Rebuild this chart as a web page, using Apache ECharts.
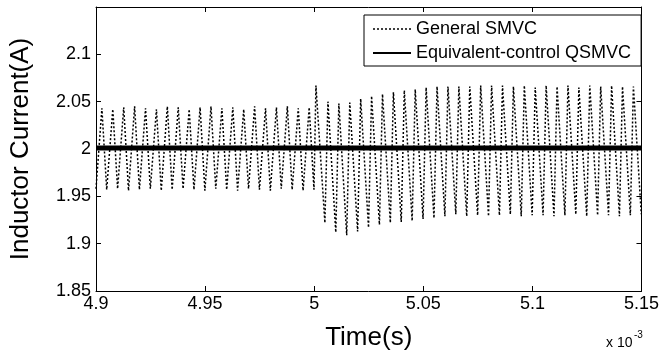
<!DOCTYPE html>
<html>
<head>
<meta charset="utf-8">
<script src="https://cdn.jsdelivr.net/npm/echarts@6/dist/echarts.min.js"></script>
<style>
  html, body { margin: 0; padding: 0; background: #fff; }
  #chart { width: 662px; height: 356px; }
</style>
</head>
<body>
<div id="chart"></div>
<script>
// time in units of 1e-3 s, current in A
// General SMVC: peaks and troughs of the ripple
const peakTime = [
  4.9027, 4.9077, 4.9127, 4.9177, 4.9227, 4.9277, 4.9327, 4.9377, 4.9427, 4.9477,
  4.9527, 4.9577, 4.9627, 4.9677, 4.9727, 4.9777, 4.9827, 4.9877, 4.9927, 4.9977,
  5.0008,
  5.0063, 5.0113, 5.0163, 5.0213, 5.0263, 5.0313, 5.0363, 5.0413, 5.0463, 5.0513,
  5.0563, 5.0613, 5.0663, 5.0713, 5.0763, 5.0813, 5.0863, 5.0913, 5.0963, 5.1013,
  5.1063, 5.1113, 5.1163, 5.1213, 5.1263, 5.1313, 5.1363, 5.1413, 5.1463
];
const peakValue = [
  2.043, 2.042, 2.044, 2.045, 2.043, 2.042, 2.045, 2.044, 2.042, 2.044,
  2.045, 2.043, 2.044, 2.042, 2.045, 2.043, 2.044, 2.045, 2.043, 2.044,
  2.067,
  2.050, 2.048, 2.049, 2.053, 2.056, 2.058, 2.060, 2.062, 2.063, 2.065,
  2.066, 2.066, 2.066, 2.066, 2.067, 2.067, 2.067, 2.066, 2.067, 2.065,
  2.067, 2.066, 2.067, 2.065, 2.067, 2.066, 2.067, 2.066, 2.066
];
const troughTime = [
  4.9,
  4.9049, 4.9099, 4.9149, 4.9199, 4.9249, 4.9299, 4.9349, 4.9399, 4.9449, 4.9499,
  4.9549, 4.9599, 4.9649, 4.9699, 4.9749, 4.9799, 4.9849, 4.9899, 4.9949, 4.9999,
  5.0049, 5.0099, 5.0149, 5.0199, 5.0249, 5.0299, 5.0349, 5.0399, 5.0449, 5.0499,
  5.0549, 5.0599, 5.0649, 5.0699, 5.0749, 5.0799, 5.0849, 5.0899, 5.0949, 5.0999,
  5.1049, 5.1099, 5.1149, 5.1199, 5.1249, 5.1299, 5.1349, 5.1399, 5.1449, 5.1499
];
const troughValue = [
  1.958,
  1.957, 1.958, 1.956, 1.957, 1.958, 1.956, 1.957, 1.958, 1.957, 1.956,
  1.958, 1.957, 1.956, 1.958, 1.957, 1.956, 1.958, 1.957, 1.956, 1.957,
  1.922, 1.912, 1.909, 1.913, 1.917, 1.920, 1.922, 1.923, 1.924, 1.926,
  1.927, 1.929, 1.931, 1.929, 1.930, 1.929, 1.930, 1.931, 1.929, 1.930,
  1.930, 1.929, 1.930, 1.931, 1.929, 1.930, 1.930, 1.929, 1.930, 1.931
];
// Equivalent-control QSMVC
const qsmvcTime = [4.9, 5.0, 5.15];
const qsmvcValue = [2.001, 2.001, 2.001];

const xTicks = ['4.9', '4.95', '5', '5.05', '5.1', '5.15'];
const yTicks = ['1.85', '1.9', '1.95', '2', '2.05', '2.1'];

const smvcData = [];
for (let i = 0; i < peakTime.length; i++) smvcData.push([peakTime[i], peakValue[i]]);
for (let i = 0; i < troughTime.length; i++) smvcData.push([troughTime[i], troughValue[i]]);
smvcData.sort((a, b) => a[0] - b[0]);

const qsmvcData = qsmvcTime.map((t, i) => [t, qsmvcValue[i]]);

const font = 'Liberation Sans, Arial, Helvetica, sans-serif';
const fmt = v => String(+(+v).toFixed(2));

const myChart = echarts.init(document.getElementById('chart'), null, {renderer: 'canvas'});

const frameAxis = {
  axisLine: {show: true, lineStyle: {color: '#000', width: 1}},
  axisTick: {show: true, inside: true, length: 5, lineStyle: {color: '#000'}},
  splitLine: {show: false},
};
// legend: no marker on the line sample
const noMarker = {color: 'rgba(0,0,0,0)', borderColor: 'rgba(0,0,0,0)', borderWidth: 0};

const option = {
  animation: false,
  backgroundColor: '#fff',
  grid: {left: 89, right: 17, top: 7, bottom: 54, containLabel: false},
  legend: {
    orient: 'vertical',
    left: 364,
    top: 15,
    padding: [5, 10, 4, 8],
    itemGap: 6,
    itemWidth: 38,
    itemHeight: 18,
    backgroundColor: '#fff',
    borderColor: '#000',
    borderWidth: 1,
    borderRadius: 0,
    itemStyle: noMarker,
    textStyle: {color: '#000', fontSize: 18, fontFamily: font},
    data: [
      {name: 'General SMVC', itemStyle: noMarker, lineStyle: {width: 1.5}},
      {name: 'Equivalent-control QSMVC', itemStyle: noMarker, lineStyle: {width: 2}},
    ],
  },
  xAxis: [
    Object.assign({
      type: 'value', min: 4.9, max: 5.15, interval: 0.05,
      name: 'Time(s)', nameLocation: 'middle', nameGap: 34,
      nameTextStyle: {color: '#000', fontSize: 26, fontFamily: font},
      axisLabel: {
        color: '#000', fontSize: 18, fontFamily: font, margin: 4,
        formatter: v => xTicks.find(s => Math.abs(+s - v) < 1e-6) || fmt(v),
      },
    }, frameAxis),
    Object.assign({
      type: 'value', position: 'top', min: 4.9, max: 5.15, interval: 0.05,
      axisLabel: {show: false},
    }, frameAxis),
  ],
  yAxis: [
    Object.assign({
      type: 'value', min: 1.85, max: 2.15, interval: 0.05,
      name: 'Inductor Current(A)', nameLocation: 'middle', nameGap: 62, nameRotate: 90,
      nameTextStyle: {color: '#000', fontSize: 26, fontFamily: font},
      axisLabel: {
        color: '#000', fontSize: 18, fontFamily: font, margin: 5, showMaxLabel: false,
        formatter: v => yTicks.find(s => Math.abs(+s - v) < 1e-6) || '',
      },
    }, frameAxis),
    Object.assign({
      type: 'value', position: 'right', min: 1.85, max: 2.15, interval: 0.05,
      axisLabel: {show: false},
    }, frameAxis),
  ],
  graphic: [
    {type: 'text', left: 606, top: 336, style: {text: 'x 10', fill: '#000', font: '14px ' + font}},
    {type: 'text', left: 634, top: 330, style: {text: '-3', fill: '#000', font: '10px ' + font}},
  ],
  series: [
    {
      name: 'General SMVC',
      type: 'line',
      data: smvcData,
      symbol: 'none',
      lineStyle: {color: '#000', width: 1.5, type: [2, 2]},
      itemStyle: {color: '#000'},
      clip: true,
      z: 2,
    },
    {
      name: 'Equivalent-control QSMVC',
      type: 'line',
      data: qsmvcData,
      symbol: 'none',
      lineStyle: {color: '#000', width: 5},
      itemStyle: {color: '#000'},
      z: 3,
    },
  ],
};
myChart.setOption(option);
window.addEventListener('resize', myChart.resize);
</script>
</body>
</html>
